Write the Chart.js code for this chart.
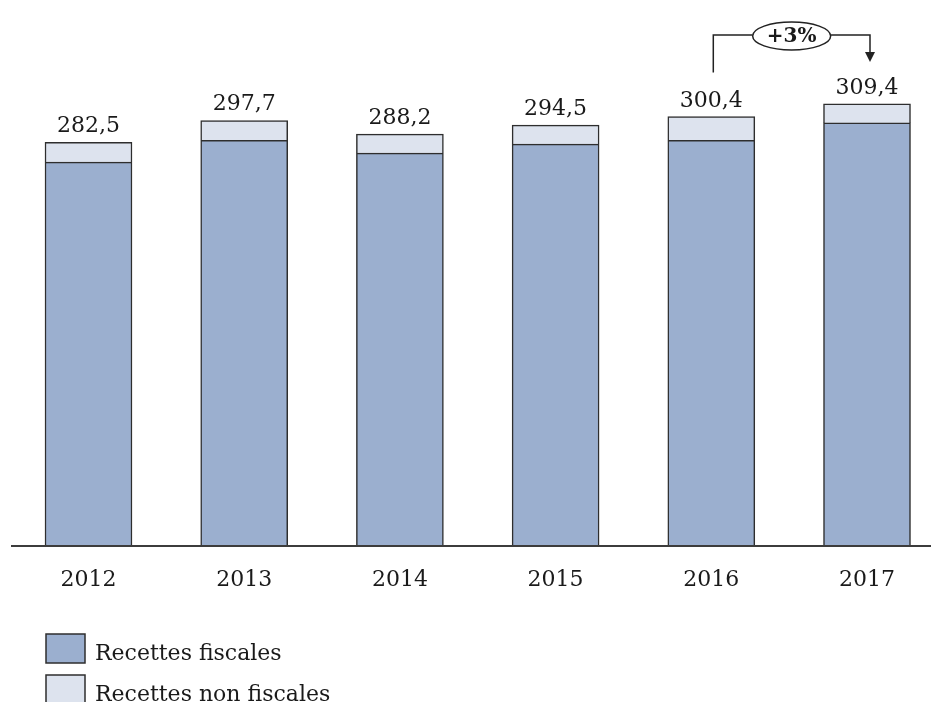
<!DOCTYPE html>
<html>
<head>
<meta charset="utf-8">
<script src="https://cdn.jsdelivr.net/npm/chart.js@4.4.0/dist/chart.umd.min.js"></script>
<style>
  html, body { margin: 0; padding: 0; background: #fff; overflow: hidden; }
</style>
</head>
<body>
<canvas id="chart" width="931" height="702"></canvas>
<script>
const years = ['2012', '2013', '2014', '2015', '2016', '2017']
const recettesFiscales = [268.6, 283.8, 274.9, 281.2, 283.8, 296.0]
const recettesNonFiscales = [13.9, 13.9, 13.3, 13.3, 16.6, 13.4]
const totals = [282.5, 297.7, 288.2, 294.5, 300.4, 309.4]
const growthText = '+3%'
const growthFrom = 4
const growthTo = 5

const FONT = 'DejaVu Serif'
const INK = '#1a1a1a'
const EDGE = '#2e2e2e'

const fmt = (v) => v.toFixed(1).replace('.', ',')

// ligne de base, totaux, flèche et légende
const extras = {
  id: 'extras',
  afterDatasetsDraw(chart) {
    const { ctx, scales } = chart
    const top = chart.getDatasetMeta(1)
    const base = scales.y.getPixelForValue(0)

    ctx.save()
    ctx.strokeStyle = '#3c3c3c'
    ctx.lineWidth = 2
    ctx.beginPath()
    ctx.moveTo(11, base)
    ctx.lineTo(chart.width, base)
    ctx.stroke()

    // totaux au-dessus des barres
    ctx.fillStyle = INK
    ctx.font = `22px "${FONT}"`
    ctx.textAlign = 'center'
    ctx.textBaseline = 'alphabetic'
    totals.forEach((t, i) => {
      const bar = top.data[i]
      ctx.fillText(fmt(t), bar.x, scales.y.getPixelForValue(t) - 10)
    })

    // +3 %
    const x1 = top.data[growthFrom].x + 2
    const x2 = top.data[growthTo].x + 3
    const yLine = 35
    const cx = (x1 + x2) / 2
    ctx.strokeStyle = '#222'
    ctx.lineWidth = 1.5
    ctx.beginPath()
    ctx.moveTo(x1, scales.y.getPixelForValue(totals[growthFrom]) - 44)
    ctx.lineTo(x1, yLine)
    ctx.lineTo(cx - 39, yLine)
    ctx.moveTo(cx + 39, yLine)
    ctx.lineTo(x2, yLine)
    ctx.lineTo(x2, 53)
    ctx.stroke()
    ctx.beginPath()
    ctx.moveTo(x2 - 5, 52)
    ctx.lineTo(x2 + 5, 52)
    ctx.lineTo(x2, 62)
    ctx.closePath()
    ctx.fillStyle = '#222'
    ctx.fill()
    ctx.beginPath()
    ctx.ellipse(cx, 36, 39, 14, 0, 0, Math.PI * 2)
    ctx.fillStyle = '#fff'
    ctx.fill()
    ctx.stroke()
    ctx.fillStyle = INK
    ctx.font = `bold 20px "${FONT}"`
    ctx.textBaseline = 'middle'
    ctx.fillText(growthText, cx, 37)

    // légende
    ctx.textAlign = 'left'
    ctx.textBaseline = 'alphabetic'
    ctx.font = `22px "${FONT}"`
    chart.data.datasets.forEach((ds, i) => {
      const y = 634 + i * 41
      ctx.fillStyle = ds.backgroundColor
      ctx.fillRect(46, y, 39, 29)
      ctx.strokeStyle = EDGE
      ctx.lineWidth = 1.5
      ctx.strokeRect(46, y, 39, 29)
      ctx.fillStyle = INK
      ctx.fillText(ds.label, 95, y + 26)
    })
    ctx.restore()
  },
}

new Chart(document.getElementById('chart'), {
  type: 'bar',
  data: {
    labels: years,
    datasets: [
      {
        label: 'Recettes fiscales',
        data: recettesFiscales,
        backgroundColor: '#9bafcf',
        borderColor: EDGE,
        borderWidth: 1.5,
        borderSkipped: false,
        barThickness: 87,
        clip: false,
      },
      {
        label: 'Recettes non fiscales',
        data: recettesNonFiscales,
        backgroundColor: '#dde3ee',
        borderColor: EDGE,
        borderWidth: 1.5,
        borderSkipped: 'bottom',
        barThickness: 87,
        clip: false,
      },
    ],
  },
  plugins: [extras],
  options: {
    responsive: false,
    animation: false,
    layout: { padding: { left: 88.5, right: 64, top: 60, bottom: 87.5 } },
    plugins: { legend: { display: false }, tooltip: { enabled: false } },
    scales: {
      x: {
        stacked: true,
        offset: false,
        grid: { display: false, drawTicks: false },
        border: { display: false },
        ticks: { color: INK, font: { family: FONT, size: 22 }, padding: 21 },
      },
      y: { stacked: true, display: false, min: 0, max: 340 },
    },
  },
})
</script>
</body>
</html>
